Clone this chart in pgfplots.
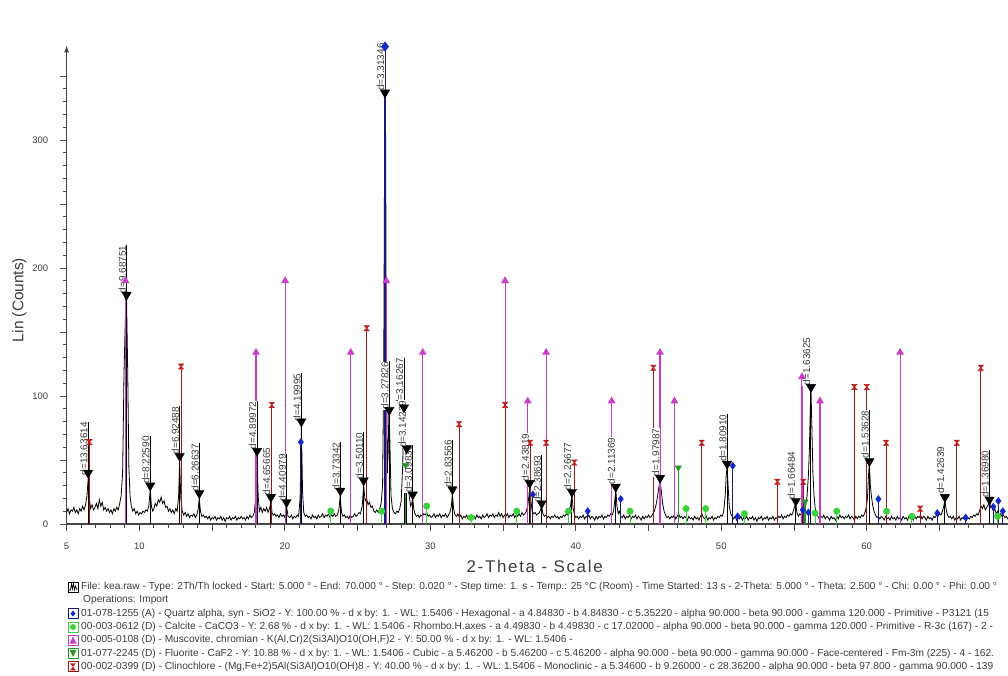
\documentclass[border=0pt]{standalone}
\usepackage{pgfplots}
\pgfplotsset{compat=1.18}
\usepackage{pgfplotstable}
\usepackage{fontspec}
\setmainfont{Liberation Sans}
\usetikzlibrary{arrows.meta}
\definecolor{qz}{RGB}{25,25,120}
\definecolor{qzm}{RGB}{20,40,200}
\definecolor{cal}{RGB}{60,210,60}
\definecolor{mus}{RGB}{200,60,200}
\definecolor{flu}{RGB}{40,150,40}
\definecolor{cli}{RGB}{150,25,25}
\definecolor{clim}{RGB}{190,30,30}
\definecolor{axgray}{RGB}{70,70,70}
\definecolor{txt}{RGB}{60,60,60}
\pgfdeclareplotmark{hourglass}{%
  \pgfpathmoveto{\pgfqpoint{-\pgfplotmarksize}{\pgfplotmarksize}}%
  \pgfpathlineto{\pgfqpoint{\pgfplotmarksize}{\pgfplotmarksize}}%
  \pgfpathlineto{\pgfqpoint{-\pgfplotmarksize}{-\pgfplotmarksize}}%
  \pgfpathlineto{\pgfqpoint{\pgfplotmarksize}{-\pgfplotmarksize}}%
  \pgfpathclose
  \pgfusepathqfillstroke}

\pgfplotstableread{
x tri top lab
6.477 40 80 d=13.63614
9.122 179 218 d=9.68751
10.746 30 69 d=8.22590
12.773 53 92 d=6.92488
14.122 24 63 d=6.26637
18.090 57 96 d=4.89972
19.044 21 60 d=4.65665
20.120 17 55 d=4.40979
21.136 80 118 d=4.19995
23.815 26 64 d=3.73342
25.420 34 72 d=3.50110
26.886 337 376 d=3.31346
27.180 89 127 d=3.27826
28.193 91 130 d=3.16267
28.380 59 97 d=3.14239
28.790 23 62 d=3.09830
31.524 27 66 d=2.83566
36.834 32 71 d=2.43819
37.655 16 54 d=2.38693
39.733 25 64 d=2.26677
42.746 29 68 d=2.11369
45.793 36 75 d=1.97987
50.400 47 86 d=1.80910
55.121 18 57 d=1.66484
56.168 107 146 d=1.63625
60.183 49 89 d=1.53628
65.375 21 61 d=1.42639
68.440 19 58 d=1.36980
}\peaks

\begin{document}
\begin{tikzpicture}[x=1bp,y=1bp]
\useasboundingbox (0,0) rectangle (1008,676);
\clip (0,0) rectangle (1008,676);
\begin{axis}[
  at={(66.6bp,152bp)}, anchor=south west,
  scale only axis, width=945.6bp, height=478.7bp,
  xmin=5, xmax=70, ymin=0, ymax=374,
  axis x line=bottom, axis y line=left,
  x axis line style={-, line width=1.1bp, axgray},
  y axis line style={-{Latex[length=7bp,width=5bp]}, line width=1.1bp, axgray},
  tick align=outside,
  xtick={5,10,...,70}, xticklabels={5,10,,20,,30,,40,,50,,60,,},
  minor x tick num=4,
  ytick={0,50,...,350}, yticklabels={0,,100,,200,,300,},
  minor y tick num=4,
  major tick length=7bp, minor tick length=4bp,
  every tick/.style={line width=0.8bp, axgray},
  /pgf/number format/assume math mode=true,
  ticklabel style={font=\fontsize{9.5}{9.5}\selectfont, text=txt},
  xticklabel style={yshift=-8bp},
  yticklabel style={xshift=-8bp},
  xlabel={2-Theta - Scale}, ylabel={Lin (Counts)},
  xlabel style={font=\fontsize{17}{17}\selectfont\addfontfeature{LetterSpace=10}, text=txt, at={(axis description cs:0.495,-0.088)}, anchor=center},
  ylabel style={font=\fontsize{15.5}{15.5}\selectfont, text=txt, at={(axis description cs:-0.05,0.468)}, anchor=center, rotate=0},
  clip=false,
]
% diffractogram
\addplot[black, line width=0.8bp] coordinates {
(5.0,9) (5.1,12) (5.2,8) (5.3,11) (5.4,10) (5.5,13) (5.6,9) (5.7,11) (5.8,8) (5.9,12) (6.0,10) (6.1,14) (6.2,11) (6.3,15) (6.4,22) (6.48,35) (6.56,20) (6.65,12) (6.75,15) (6.85,11) (6.95,13) (7.05,16) (7.15,12) (7.25,19) (7.35,14) (7.45,17) (7.55,11) (7.65,13) (7.75,10) (7.85,12) (7.95,9) (8.05,11) (8.15,8) (8.25,12) (8.35,10) (8.45,13) (8.55,11) (8.65,16) (8.75,22) (8.85,40) (8.95,120) (9.05,165) (9.12,176) (9.2,120) (9.28,45) (9.36,22) (9.45,14) (9.55,10) (9.65,12) (9.75,8) (9.85,10) (9.95,7) (10.05,9) (10.15,8) (10.25,10) (10.35,9) (10.45,11) (10.55,10) (10.65,14) (10.75,27) (10.83,14) (10.92,10) (11.0,12) (11.1,16) (11.2,14) (11.3,19) (11.4,17) (11.5,21) (11.6,16) (11.7,18) (11.8,13) (11.9,14) (12.0,10) (12.1,12) (12.2,9) (12.3,11) (12.4,8) (12.5,12) (12.6,10) (12.7,22) (12.77,49) (12.85,20) (12.95,10) (13.05,7) (13.15,9) (13.25,6) (13.35,8) (13.45,5) (13.55,7) (13.65,6) (13.75,8) (13.85,5) (13.95,7) (14.05,12) (14.12,20) (14.2,10) (14.3,6) (14.4,7) (14.5,5) (14.6,6) (14.7,4) (14.8,6) (14.9,3) (15.0,5) (15.1,4) (15.2,6) (15.3,3) (15.4,5) (15.5,4) (15.6,6) (15.7,3) (15.8,5) (15.9,2) (16.0,5) (16.1,4) (16.2,6) (16.3,3) (16.4,5) (16.5,4) (16.6,6) (16.7,3) (16.8,5) (16.9,4) (17.0,6) (17.1,4) (17.2,5) (17.3,3) (17.4,6) (17.5,4) (17.6,7) (17.7,5) (17.8,6) (17.9,9) (18.0,20) (18.09,52) (18.17,22) (18.25,10) (18.35,13) (18.45,9) (18.55,12) (18.65,10) (18.75,13) (18.85,9) (18.95,12) (19.04,18) (19.12,9) (19.2,7) (19.3,8) (19.4,6) (19.5,7) (19.6,5) (19.7,8) (19.8,6) (19.9,7) (20.0,5) (20.12,14) (20.22,6) (20.35,5) (20.45,7) (20.55,4) (20.65,6) (20.75,5) (20.85,7) (20.95,6) (21.05,20) (21.14,76) (21.22,25) (21.3,9) (21.4,6) (21.5,7) (21.6,5) (21.7,6) (21.8,4) (21.9,7) (22.0,5) (22.1,6) (22.2,4) (22.3,7) (22.4,5) (22.5,6) (22.6,8) (22.7,5) (22.8,7) (22.9,6) (23.0,8) (23.1,5) (23.2,7) (23.3,6) (23.4,8) (23.5,6) (23.6,7) (23.72,11) (23.8,22) (23.9,9) (24.0,6) (24.1,7) (24.2,5) (24.3,6) (24.4,4) (24.5,7) (24.6,5) (24.7,6) (24.8,8) (24.9,6) (25.0,7) (25.1,9) (25.2,8) (25.32,14) (25.42,30) (25.52,18) (25.62,20) (25.72,15) (25.82,17) (25.92,13) (26.02,14) (26.12,10) (26.22,9) (26.32,11) (26.42,9) (26.52,12) (26.62,16) (26.72,30) (26.8,120) (26.86,300) (26.89,368) (26.93,300) (26.98,130) (27.05,40) (27.1,55) (27.15,85) (27.18,87) (27.23,60) (27.3,22) (27.4,12) (27.5,9) (27.6,8) (27.7,10) (27.8,9) (27.9,12) (28.0,18) (28.1,45) (28.19,87) (28.26,62) (28.32,50) (28.38,56) (28.45,40) (28.55,22) (28.65,14) (28.72,16) (28.79,20) (28.86,12) (28.95,8) (29.05,6) (29.15,7) (29.25,5) (29.35,7) (29.45,6) (29.55,8) (29.65,7) (29.75,9) (29.85,6) (29.95,7) (30.05,5) (30.15,6) (30.25,8) (30.35,5) (30.45,7) (30.55,6) (30.65,8) (30.75,5) (30.85,7) (30.95,6) (31.05,8) (31.15,5) (31.25,7) (31.35,9) (31.45,14) (31.52,24) (31.6,12) (31.7,7) (31.8,6) (31.9,8) (32.0,5) (32.1,7) (32.2,4) (32.3,6) (32.4,5) (32.5,7) (32.6,4) (32.7,6) (32.8,3) (32.9,5) (33.0,6) (33.1,4) (33.2,7) (33.3,5) (33.4,6) (33.5,4) (33.6,7) (33.7,5) (33.8,6) (33.9,8) (34.0,5) (34.1,7) (34.2,6) (34.3,8) (34.4,5) (34.5,7) (34.6,6) (34.7,9) (34.8,6) (34.9,8) (35.0,5) (35.1,7) (35.2,6) (35.3,8) (35.4,5) (35.5,7) (35.6,6) (35.7,8) (35.8,5) (35.9,7) (36.0,6) (36.1,8) (36.2,6) (36.3,9) (36.4,7) (36.5,8) (36.6,10) (36.7,14) (36.78,22) (36.84,30) (36.92,18) (37.0,10) (37.1,8) (37.2,9) (37.3,7) (37.4,8) (37.5,9) (37.6,12) (37.66,14) (37.74,8) (37.85,6) (37.95,7) (38.05,5) (38.15,6) (38.25,4) (38.35,6) (38.45,5) (38.55,7) (38.65,5) (38.75,6) (38.85,4) (38.95,6) (39.05,5) (39.15,7) (39.25,6) (39.35,8) (39.45,7) (39.55,10) (39.65,15) (39.73,23) (39.82,12) (39.92,7) (40.0,5) (40.1,6) (40.2,4) (40.3,6) (40.4,5) (40.5,7) (40.6,4) (40.7,6) (40.8,5) (40.9,7) (41.0,4) (41.1,6) (41.2,5) (41.3,3) (41.4,6) (41.5,4) (41.6,6) (41.7,5) (41.8,7) (41.9,4) (42.0,6) (42.1,5) (42.2,7) (42.3,6) (42.4,8) (42.5,7) (42.6,10) (42.68,18) (42.75,27) (42.83,14) (42.92,8) (43.0,10) (43.1,6) (43.2,5) (43.3,7) (43.4,4) (43.5,6) (43.6,5) (43.7,7) (43.8,4) (43.9,6) (44.0,5) (44.1,7) (44.2,4) (44.3,6) (44.4,5) (44.5,3) (44.6,6) (44.7,4) (44.8,6) (44.9,5) (45.0,7) (45.1,5) (45.2,6) (45.3,8) (45.4,10) (45.5,14) (45.6,20) (45.7,28) (45.79,33) (45.88,26) (45.97,16) (46.07,10) (46.17,7) (46.27,5) (46.37,6) (46.47,4) (46.57,6) (46.67,5) (46.77,7) (46.87,4) (46.97,6) (47.07,8) (47.17,5) (47.27,6) (47.37,4) (47.47,6) (47.57,5) (47.67,3) (47.77,6) (47.87,4) (47.97,5) (48.07,3) (48.17,6) (48.27,4) (48.37,5) (48.47,3) (48.57,6) (48.67,8) (48.77,5) (48.87,4) (48.97,6) (49.07,3) (49.17,5) (49.27,4) (49.37,6) (49.47,3) (49.57,5) (49.67,4) (49.77,6) (49.87,5) (49.97,7) (50.07,6) (50.17,10) (50.27,22) (50.34,38) (50.40,45) (50.47,30) (50.55,14) (50.65,8) (50.75,6) (50.85,4) (50.95,6) (51.05,3) (51.15,5) (51.25,4) (51.35,6) (51.45,3) (51.55,5) (51.65,4) (51.75,6) (51.85,3) (51.95,5) (52.05,4) (52.15,6) (52.25,3) (52.35,5) (52.45,2) (52.55,5) (52.65,4) (52.75,6) (52.85,3) (52.95,5) (53.05,4) (53.15,6) (53.25,3) (53.35,5) (53.45,4) (53.55,6) (53.65,3) (53.75,5) (53.85,4) (53.95,6) (54.05,5) (54.15,7) (54.25,4) (54.35,6) (54.45,5) (54.55,7) (54.65,6) (54.75,8) (54.85,7) (54.95,10) (55.05,14) (55.12,16) (55.2,9) (55.3,6) (55.4,8) (55.5,7) (55.6,10) (55.7,9) (55.8,14) (55.9,22) (56.0,40) (56.06,60) (56.12,90) (56.17,104) (56.23,75) (56.3,40) (56.38,22) (56.46,12) (56.55,8) (56.65,6) (56.75,4) (56.85,6) (56.95,5) (57.05,7) (57.15,4) (57.25,6) (57.35,5) (57.45,3) (57.55,6) (57.65,4) (57.75,5) (57.85,3) (57.95,6) (58.05,4) (58.15,7) (58.25,5) (58.35,6) (58.45,4) (58.55,6) (58.65,5) (58.75,7) (58.85,4) (58.95,6) (59.05,5) (59.15,3) (59.25,6) (59.35,4) (59.45,6) (59.55,5) (59.65,7) (59.75,6) (59.85,8) (59.95,12) (60.05,20) (60.12,38) (60.18,47) (60.25,30) (60.32,22) (60.4,15) (60.5,10) (60.6,7) (60.7,5) (60.8,6) (60.9,4) (61.0,6) (61.1,5) (61.2,3) (61.3,6) (61.4,4) (61.5,5) (61.6,3) (61.7,6) (61.8,4) (61.9,5) (62.0,3) (62.1,6) (62.2,4) (62.3,5) (62.4,3) (62.5,6) (62.6,4) (62.7,5) (62.8,3) (62.9,6) (63.0,4) (63.1,5) (63.2,3) (63.3,6) (63.4,4) (63.5,6) (63.6,5) (63.7,7) (63.8,4) (63.9,6) (64.0,5) (64.1,3) (64.2,6) (64.3,4) (64.4,5) (64.5,3) (64.6,6) (64.7,5) (64.8,7) (64.9,6) (65.0,8) (65.1,7) (65.2,10) (65.3,14) (65.37,19) (65.45,12) (65.55,7) (65.65,5) (65.75,6) (65.85,4) (65.95,6) (66.05,3) (66.15,5) (66.25,4) (66.35,6) (66.45,3) (66.55,5) (66.65,4) (66.75,6) (66.85,3) (66.95,5) (67.05,4) (67.15,6) (67.25,5) (67.35,7) (67.45,6) (67.55,8) (67.65,7) (67.75,10) (67.85,14) (67.95,12) (68.05,15) (68.15,11) (68.25,13) (68.35,15) (68.44,17) (68.52,13) (68.6,14) (68.7,10) (68.8,12) (68.9,8) (69.0,10) (69.1,7) (69.2,8) (69.3,6) (69.4,7) (69.5,5) (69.6,6) (69.7,4) (69.8,6) (69.9,5) (70.0,6)
};
% peak marker lines
\addplot[ycomb, black, line width=1bp] table[x=x, y=top] {\peaks};
% d labels
\addplot[only marks, mark=*, mark size=0pt, mark options={draw=none, fill=none},
  nodes near coords, point meta=explicit symbolic,
  every node near coord/.append style={rotate=90, anchor=south east, font=\fontsize{10}{10}\selectfont, text=txt, fill=white, inner sep=0.5bp}]
  table[x=x, y=top, meta=lab] {\peaks};
% Calcite
\addplot[ycomb, cal, line width=1bp, mark=*, mark size=3bp, mark options={fill=cal, draw=cal}] coordinates {
(23.16,10) (26.66,10) (29.75,14) (32.8,5) (35.94,10) (39.49,10) (43.73,10) (47.58,12) (48.93,12) (51.59,8) (56.45,8.5) (57.94,10) (61.37,10) (63.1,6) (69.0,6)};
% Muscovite
\addplot[ycomb, mus, line width=1.1bp, mark=triangle*, mark size=3.4bp, mark options={fill=mus, draw=mus}] coordinates {
(9.05,190) (18.02,134) (20.02,190) (24.53,134) (26.98,190) (29.48,134) (35.14,190) (36.70,96) (37.96,134) (42.47,96) (45.79,134) (46.78,96) (55.55,115) (56.79,96) (62.29,134)};
% Clinochlore
\addplot[ycomb, cli, line width=1.1bp, mark=hourglass, mark size=2.6bp, mark options={fill=clim, draw=clim, line width=0.6bp}] coordinates {
(6.57,64) (12.87,123) (19.10,93) (25.63,153) (31.98,78) (35.14,93) (36.86,63.5) (37.96,63.5) (39.90,48) (45.33,122) (48.66,63.5) (53.86,33) (55.64,33) (59.15,107) (60.00,107) (61.33,63.5) (63.67,12) (66.19,63.5) (67.84,122)};
% Fluorite
\addplot[ycomb, flu, line width=1.6bp, mark=triangle*, mark size=3.6bp, mark options={fill=flu, draw=flu, rotate=180, line width=0.5bp}] coordinates {
(28.30,46) (47.05,44) (55.76,17.5)};
% Quartz
\addplot[ycomb, qz, line width=1.2bp, mark=diamond*, mark size=3bp, mark options={fill=qzm, draw=qzm}] coordinates {
(21.10,64) (37.05,23) (40.82,10) (43.09,19.5) (50.79,45.5) (51.13,6) (55.6,11) (55.99,9) (60.80,19.5) (64.85,8.5) (66.8,5) (68.7,13.5) (69.05,18) (69.35,10)};
\addplot[ycomb, qz, line width=2.6bp, mark=diamond*, mark size=3bp, mark options={fill=qzm, draw=qzm}] coordinates {(26.89,373)};
% triangles of peak markers
\addplot[only marks, mark=triangle*, mark size=5.4bp, mark options={rotate=180, fill=black, draw=black}] table[x=x, y=tri] {\peaks};
\end{axis}

% legend block
\begin{scope}[font=\fontsize{10.2}{10.2}\selectfont, every node/.style={anchor=west, inner sep=0pt, text=txt}]
% file line
\draw[black, line width=0.8bp, fill=white] (68,84) rectangle (78,94);
\draw[black, line width=0.7bp] (69,86)--(70.5,86)--(71.5,92)--(72.5,87)--(73.5,93)--(74.5,86)--(75.5,90)--(77,86);
\node at (81,89) {File: kea.raw - Type: 2Th/Th locked - Start: 5.000 ° - End: 70.000 ° - Step: 0.020 ° - Step time: 1. s - Temp.: 25 °C (Room) - Time Started: 13 s - 2-Theta: 5.000 ° - Theta: 2.500 ° - Chi: 0.00 ° - Phi: 0.00 °};
\node at (83,75.7) {Operations: Import};
% quartz
\draw[qz, line width=0.9bp, fill=white] (68,57.4) rectangle (78,67.4);
\fill[qzm] (73,59.4)--(75.5,62.4)--(73,65.4)--(70.5,62.4)--cycle;
\node at (81,62.4) {01-078-1255 (A) - Quartz alpha, syn - SiO2 - Y: 100.00 \% - d x by: 1. - WL: 1.5406 - Hexagonal - a 4.84830 - b 4.84830 - c 5.35220 - alpha 90.000 - beta 90.000 - gamma 120.000 - Primitive - P3121 (15};
% calcite
\draw[cal, line width=0.9bp, fill=white] (68,44) rectangle (78,54);
\fill[cal] (73,49) circle (3);
\node at (81,49) {00-003-0612 (D) - Calcite - CaCO3 - Y: 2.68 \% - d x by: 1. - WL: 1.5406 - Rhombo.H.axes - a 4.49830 - b 4.49830 - c 17.02000 - alpha 90.000 - beta 90.000 - gamma 120.000 - Primitive - R-3c (167) - 2 -};
% muscovite
\draw[mus, line width=0.9bp, fill=white] (68,30.8) rectangle (78,40.8);
\fill[mus] (73,39.3)--(76.5,32.3)--(69.5,32.3)--cycle;
\node at (81,35.8) {00-005-0108 (D) - Muscovite, chromian - K(Al,Cr)2(Si3Al)O10(OH,F)2 - Y: 50.00 \% - d x by: 1. - WL: 1.5406 -};
% fluorite
\draw[flu, line width=0.9bp, fill=white] (68,17.5) rectangle (78,27.5);
\fill[flu] (73,19)--(76.5,26)--(69.5,26)--cycle;
\node at (81,22.5) {01-077-2245 (D) - Fluorite - CaF2 - Y: 10.88 \% - d x by: 1. - WL: 1.5406 - Cubic - a 5.46200 - b 5.46200 - c 5.46200 - alpha 90.000 - beta 90.000 - gamma 90.000 - Face-centered - Fm-3m (225) - 4 - 162.};
% clinochlore
\draw[cli, line width=0.9bp, fill=white] (68,4.2) rectangle (78,14.2);
\fill[clim] (70,12.7)--(76,12.7)--(70,5.7)--(76,5.7)--cycle;
\node at (81,9.2) {00-002-0399 (D) - Clinochlore - (Mg,Fe+2)5Al(Si3Al)O10(OH)8 - Y: 40.00 \% - d x by: 1. - WL: 1.5406 - Monoclinic - a 5.34600 - b 9.26000 - c 28.36200 - alpha 90.000 - beta 97.800 - gamma 90.000 - 139};
\end{scope}
\end{tikzpicture}
\end{document}
